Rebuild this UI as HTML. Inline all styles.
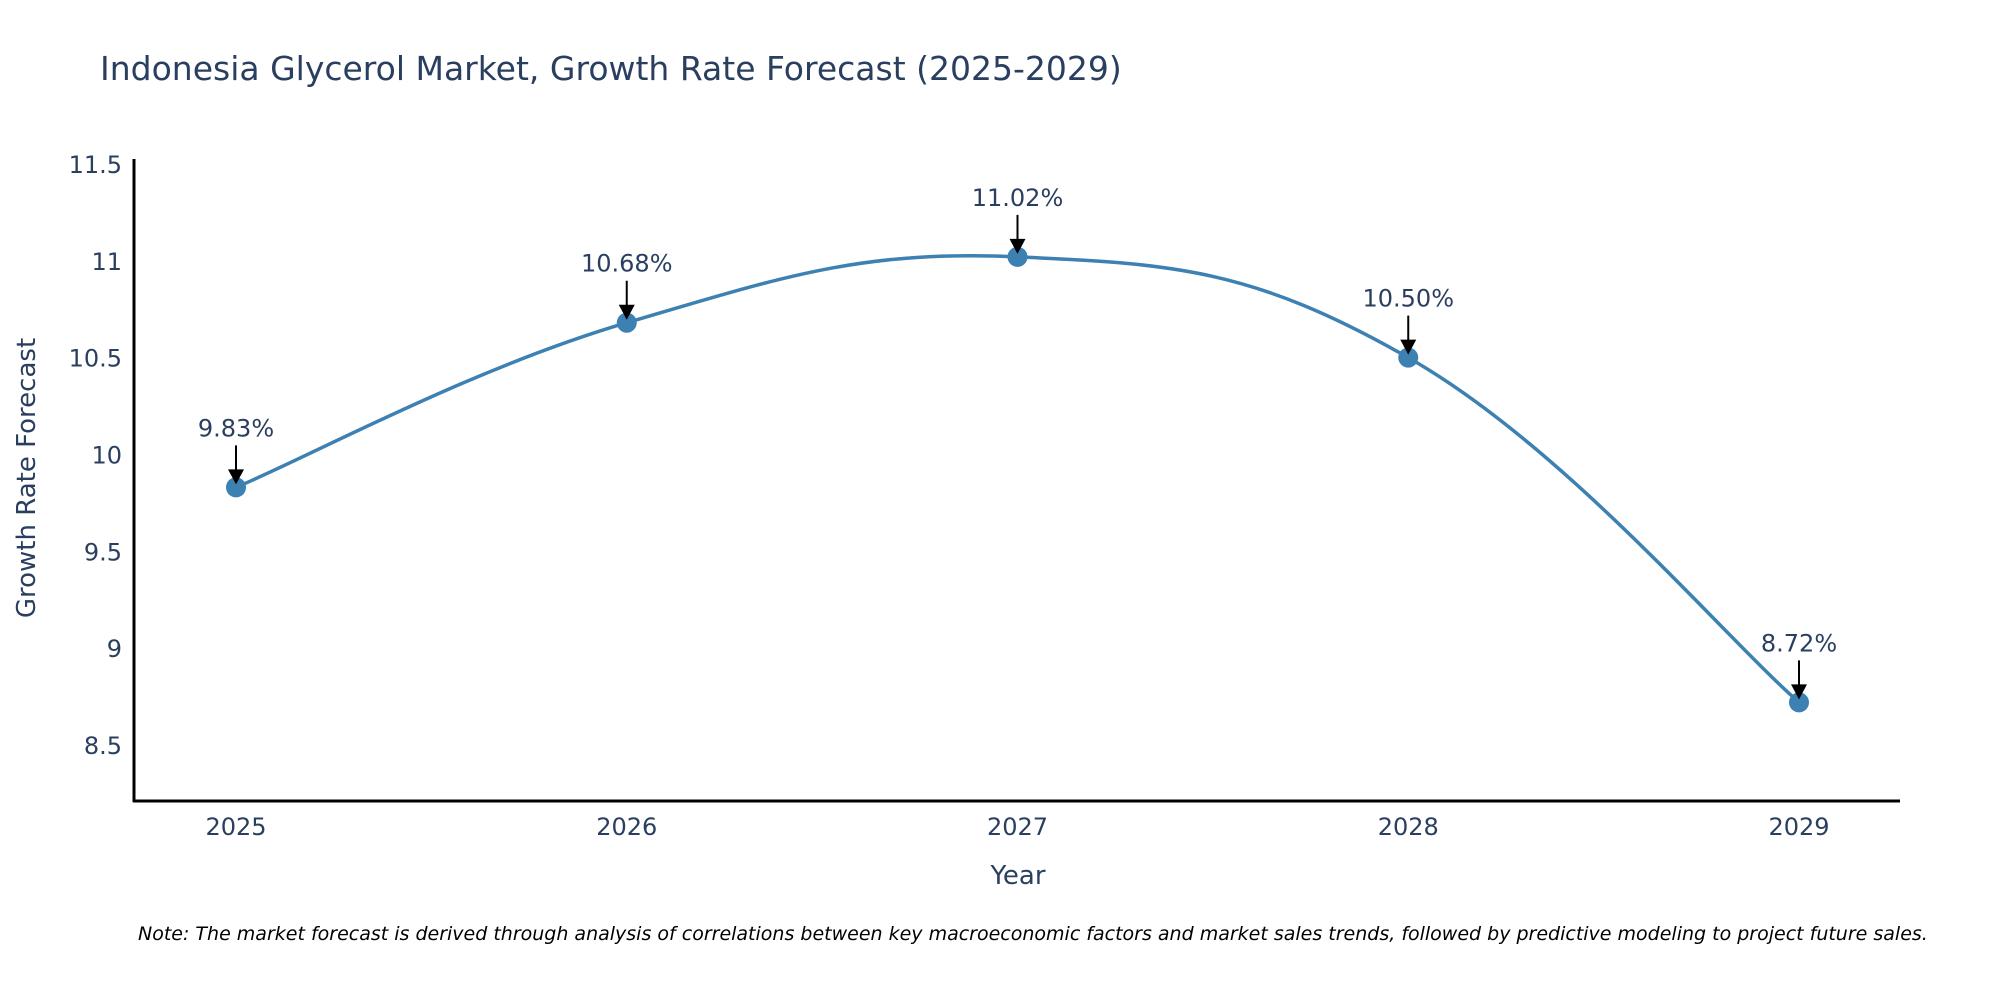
<!DOCTYPE html>
<html><head><meta charset="utf-8"><style>
body{margin:0;background:#fff}
svg{display:block;font-family:"DejaVu Sans","Liberation Sans",sans-serif}
</style></head><body>
<svg id="chart" width="2000" height="1000">
<text x="100" y="80" font-size="33" fill="#2a3f5f">Indonesia Glycerol Market, Growth Rate Forecast (2025-2029)</text>
<g id="yticks"></g><g id="xticks"></g>
<line x1="134" y1="159" x2="134" y2="802" stroke="#000" stroke-width="3"/>
<line x1="133" y1="801" x2="1900" y2="801" stroke="#000" stroke-width="3"/>
<path id="line" fill="none" stroke="#3d81b3" stroke-width="3.5"/>
<g id="marks"></g>
<text x="1018" y="884" font-size="26" fill="#2a3f5f" text-anchor="middle">Year</text>
<text transform="translate(35,478) rotate(-90)" font-size="26" fill="#2a3f5f" text-anchor="middle">Growth Rate Forecast</text>
<text x="138" y="940" font-size="19" font-style="italic" fill="#000">Note: The market forecast is derived through analysis of correlations between key macroeconomic factors and market sales trends, followed by predictive modeling to project future sales.</text>
</svg>
<script>
const years=[2025,2026,2027,2028,2029];
const values=[9.83,10.68,11.02,10.50,8.72];
const labels=["9.83%","10.68%","11.02%","10.50%","8.72%"];
const yTicks=[8.5,9,9.5,10,10.5,11,11.5];
const NS="http://www.w3.org/2000/svg";
const xS=y=>236+(y-2025)*390.75;
const yS=v=>745-(v-8.5)*193.7;
function mk(t,a,p){const e=document.createElementNS(NS,t);for(const k in a)e.setAttribute(k,a[k]);p.appendChild(e);return e;}
const yt=document.getElementById('yticks');
yTicks.forEach(v=>{const t=mk('text',{x:122,y:yS(v)+9,'font-size':24,fill:'#2a3f5f','text-anchor':'end'},yt);t.textContent=String(v);

});
const xt=document.getElementById('xticks');
years.forEach(y=>{const t=mk('text',{x:xS(y),y:835,'font-size':24,fill:'#2a3f5f','text-anchor':'middle'},xt);t.textContent=String(y);

});
const P=years.map((y,i)=>[xS(y),yS(values[i])]);
let d=`M${P[0][0]},${P[0][1]}`;const s=0.2;
for(let i=0;i<P.length-1;i++){const p0=P[Math.max(i-1,0)],p1=P[i],p2=P[i+1],p3=P[Math.min(i+2,P.length-1)];
d+=` C${p1[0]+(p2[0]-p0[0])*s},${p1[1]+(p2[1]-p0[1])*s} ${p2[0]-(p3[0]-p1[0])*s},${p2[1]-(p3[1]-p1[1])*s} ${p2[0]},${p2[1]}`;}
document.getElementById('line').setAttribute('d',d);
const m=document.getElementById('marks');
P.forEach((p,i)=>{
const c=mk('circle',{cx:p[0],cy:p[1],r:10,fill:'#3d81b3'},m);


const l=mk('line',{x1:p[0],y1:p[1]-42,x2:p[0],y2:p[1]-16,stroke:'#000','stroke-width':2},m);


const a=mk('polygon',{points:`${p[0]-8},${p[1]-18} ${p[0]+8},${p[1]-18} ${p[0]},${p[1]-3}`,fill:'#000'},m);


const t=mk('text',{x:p[0],y:p[1]-51,'font-size':24,fill:'#2a3f5f','text-anchor':'middle'},m);t.textContent=labels[i];


});
</script>
</body></html>
